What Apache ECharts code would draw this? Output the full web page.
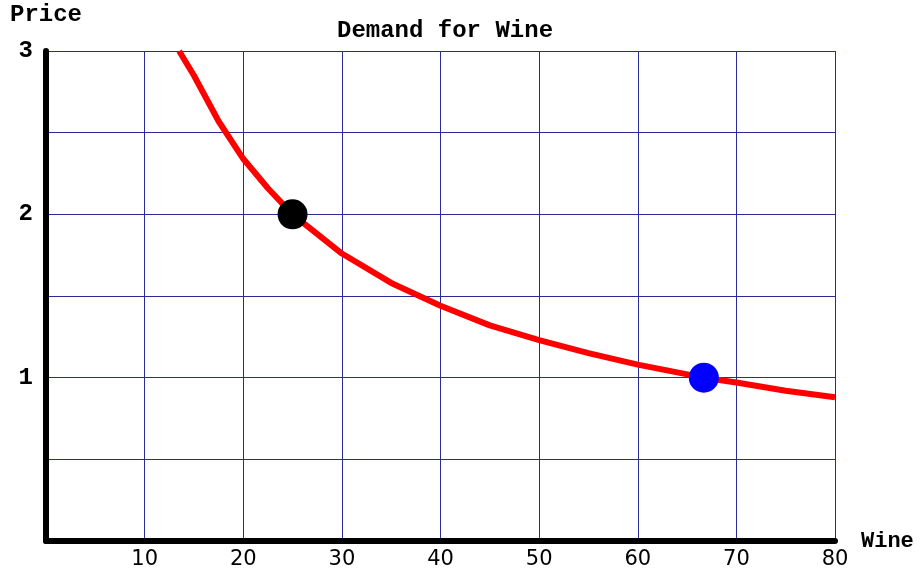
<!DOCTYPE html>
<html>
<head>
<meta charset="utf-8">
<script src="https://cdn.jsdelivr.net/npm/echarts@6/dist/echarts.min.js"></script>
<style>
  html, body { margin: 0; padding: 0; background: #fff; }
  #chart { width: 922px; height: 575px; }
</style>
</head>
<body>
<div id="chart"></div>
<script>
// demand curve (quantity of wine, price)
var wineQty   = [13.5, 15, 17.5, 20, 22.5, 25, 30, 35, 40, 45, 50, 55, 60, 66.7, 70, 75, 80];
var winePrice = [3.0, 2.85, 2.57, 2.34, 2.16, 2.0, 1.76, 1.58, 1.44, 1.32, 1.23, 1.15, 1.08, 1.0, 0.97, 0.92, 0.88];
// the two marked points
var blackPoint = [25, 2];
var bluePoint = [66.7, 1];

var mono = '"Liberation Mono", "DejaVu Sans Mono", monospace';
var sans = '"DejaVu Sans", Verdana, sans-serif';

var chart = echarts.init(document.getElementById('chart'));
var curve = wineQty.map(function (q, i) {
    return [q, winePrice[i]];
});
chart.setOption({
    animation: false,
    backgroundColor: '#fff',
    title: {
        text: 'Demand for Wine',
        left: 332,
        top: 14,
        textStyle: {fontFamily: mono, fontSize: 24, fontWeight: 'bold', color: '#000'}
    },
    grid: {left: 46, right: 87, top: 51, bottom: 34},
    xAxis: {
        type: 'value',
        min: 0,
        max: 80,
        interval: 10,
        name: 'Wine',
        nameLocation: 'end',
        nameGap: 26,
        nameTextStyle: {fontFamily: mono, fontSize: 22, fontWeight: 'bold', color: '#000', verticalAlign: 'middle'},
        axisLine: {onZero: false, lineStyle: {color: '#000', width: 6}},
        axisTick: {show: false},
        axisLabel: {
            showMinLabel: false,
            margin: 8,
            fontFamily: sans,
            fontSize: 21,
            color: '#000'
        },
        splitLine: {show: true, lineStyle: {color: '#2a2a98', width: 1}}
    },
    yAxis: {
        type: 'value',
        min: 0,
        max: 3,
        interval: 0.5,
        name: 'Price',
        nameLocation: 'end',
        nameGap: 24,
        nameTextStyle: {fontFamily: mono, fontSize: 24, fontWeight: 'bold', color: '#000', align: 'center'},
        axisLine: {show: true, onZero: false, lineStyle: {color: '#000', width: 6}},
        axisTick: {show: false},
        axisLabel: {
            margin: 13,
            fontFamily: mono,
            fontSize: 24,
            fontWeight: 'bold',
            color: '#000',
            formatter: function (v) {
                return (v > 0 && v % 1 === 0) ? String(v) : '';
            }
        },
        splitLine: {show: true, lineStyle: {color: '#2a2a98', width: 1}}
    },
    series: [
        {
            type: 'line',
            data: curve,
            smooth: false,
            showSymbol: false,
            lineStyle: {color: '#ff0000', width: 6, join: 'round'},
            z: 3
        },
        {
            type: 'scatter',
            data: [blackPoint],
            symbolSize: 30,
            itemStyle: {color: '#000', opacity: 1},
            z: 4
        },
        {
            type: 'scatter',
            data: [bluePoint],
            symbolSize: 30,
            itemStyle: {color: '#0000ff', opacity: 1},
            z: 4
        }
    ]
});
</script>
</body>
</html>
